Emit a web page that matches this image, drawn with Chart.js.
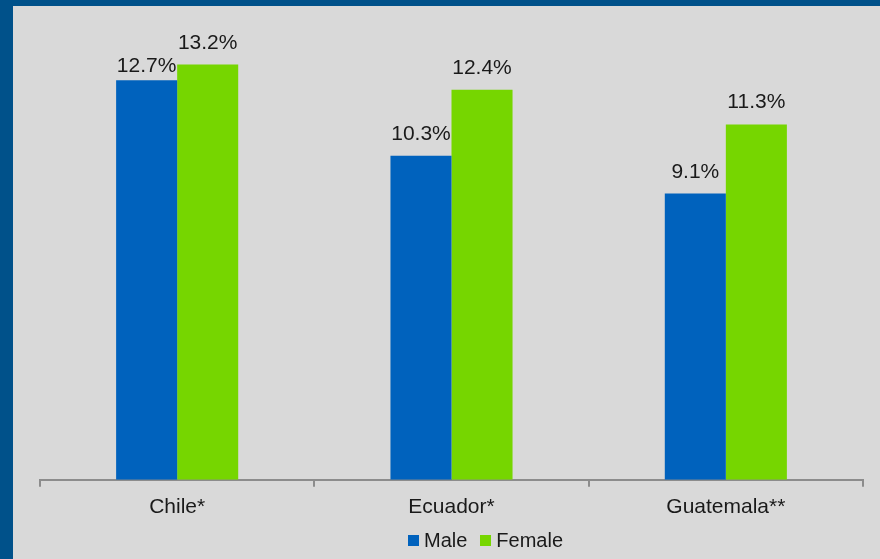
<!DOCTYPE html>
<html>
<head>
<meta charset="utf-8">
<script src="https://cdn.jsdelivr.net/npm/chart.js@4.4.1/dist/chart.umd.min.js"></script>
<style>
  html, body { margin: 0; padding: 0; background: #00518a; }
  .panel { position: absolute; left: 13px; top: 6px; width: 867px; height: 553px; background: #d9d9d9; }
  #legend { position: absolute; left: 408px; top: 528px; height: 24px; display: flex; align-items: center;
            font: 20px "Liberation Sans", Arial, sans-serif; color: #1a1a1a; }
  #legend span.box { display: inline-block; width: 11px; height: 11px; margin-right: 5px; }
  #legend span.item { display: flex; align-items: center; margin-right: 13px; }
</style>
</head>
<body>
<div class="panel"><canvas id="chart" width="867" height="553"></canvas></div>
<div id="legend"></div>
<script>
const countries = ['Chile*', 'Ecuador*', 'Guatemala**'];
const male = [12.7, 10.3, 9.1];
const female = [13.2, 12.4, 11.3];

const FONT = '"Liberation Sans", Arial, sans-serif';

// percent over each bar; if the two labels of a pair crowd each other the lower one sits closer to its bar
const barLabels = {
  id: 'barLabels',
  afterDatasetsDraw(chart) {
    const ctx = chart.ctx;
    ctx.save();
    ctx.font = '21px ' + FONT;
    ctx.fillStyle = '#1a1a1a';
    ctx.textAlign = 'center';
    ctx.textBaseline = 'alphabetic';
    const metas = chart.data.datasets.map((ds, i) => chart.getDatasetMeta(i));
    chart.data.labels.forEach((_, j) => {
      const bars = metas.map(m => m.data[j]);
      const ys = bars.map(b => b.y - 16);
      if (Math.abs(ys[0] - ys[1]) < 21) {
        const low = ys[0] > ys[1] ? 0 : 1;
        ys[low] = bars[low].y - 8;
      }
      bars.forEach((b, i) => {
        ctx.fillText(chart.data.datasets[i].data[j].toFixed(1) + '%', b.x, ys[i]);
      });
    });
    ctx.restore();
  }
};

const chart = new Chart(document.getElementById('chart'), {
  type: 'bar',
  data: {
    labels: countries,
    datasets: [
      { label: 'Male', data: male, backgroundColor: '#0062bd' },
      { label: 'Female', data: female, backgroundColor: '#76d600' }
    ]
  },
  options: {
    responsive: false,
    animation: false,
    layout: { padding: { left: 27, right: 17, top: 2, bottom: 31 } },
    categoryPercentage: 0.445,
    barPercentage: 1.0,
    plugins: {
      legend: { display: false },
      tooltip: { enabled: false }
    },
    scales: {
      x: {
        grid: { offset: true, drawOnChartArea: false, color: '#8c8c8c', tickLength: 7, lineWidth: 2 },
        border: { color: '#8c8c8c', width: 2 },
        ticks: {
          color: '#1a1a1a',
          padding: 8,
          font: { family: FONT, size: 21 }
        }
      },
      y: { display: false, min: 0, max: 15 }
    }
  },
  plugins: [barLabels]
});

// legend built from the datasets
document.getElementById('legend').innerHTML = chart.data.datasets.map(ds =>
  `<span class="item"><span class="box" style="background:${ds.backgroundColor}"></span>${ds.label}</span>`
).join('');
</script>
</body>
</html>
